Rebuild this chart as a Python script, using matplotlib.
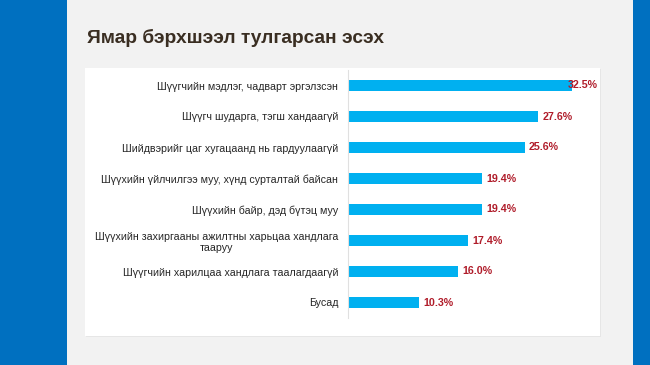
import matplotlib.pyplot as plt
from matplotlib.patches import Rectangle

plt.rcParams['font.family'] = ['Liberation Sans', 'DejaVu Sans']

title = "Ямар бэрхшээл тулгарсан эсэх"
categories = [
    "Шүүгчийн мэдлэг, чадварт эргэлзсэн",
    "Шүүгч шударга, тэгш хандаагүй",
    "Шийдвэрийг цаг хугацаанд нь гардуулаагүй",
    "Шүүхийн үйлчилгээ муу, хүнд сурталтай байсан",
    "Шүүхийн байр, дэд бүтэц муу",
    "Шүүхийн захиргааны ажилтны харьцаа хандлага\nтааруу",
    "Шүүгчийн харилцаа хандлага таалагдаагүй",
    "Бусад",
]
values = [32.5, 27.6, 25.6, 19.4, 19.4, 17.4, 16.0, 10.3]

W, H = 650, 365
fig = plt.figure(figsize=(W / 100, H / 100), dpi=100)
fig.patch.set_facecolor("#f2f2f2")

# slide frame: blue strips left/right, white panel
fig.patches.append(Rectangle((0, 0), 67 / W, 1, transform=fig.transFigure,
                             facecolor="#0070c0", edgecolor="none", zorder=0))
fig.patches.append(Rectangle((633 / W, 0), 1 - 633 / W, 1, transform=fig.transFigure,
                             facecolor="#0070c0", edgecolor="none", zorder=0))
fig.patches.append(Rectangle((86 / W, 1 - 337 / H), 515 / W, 268 / H, transform=fig.transFigure,
                             facecolor="#e6e6e6", edgecolor="none", zorder=0))
fig.patches.append(Rectangle((85 / W, 1 - 336 / H), 515 / W, 268 / H, transform=fig.transFigure,
                             facecolor="white", edgecolor="none", zorder=0))

fig.text(87 / W, 1 - 43 / H, title, fontsize=13.8, fontweight="bold",
         color="#3a2e22", ha="left", va="baseline")

ax = fig.add_axes([348 / W, 1 - 318 / H, 241.5 / W, 248 / H])
ax.set_facecolor("none")
ax.set_zorder(5)

y = list(range(len(categories)))
ax.barh(y, values, height=0.36, color="#00b0f0")
ax.set_xlim(0, 35)
ax.set_ylim(len(categories) - 0.5, -0.5)

ax.set_yticks(y)
ax.set_yticklabels(categories, fontsize=7.65, color="#262626")
for t in ax.get_yticklabels():
    t.set_multialignment("center")
    t.set_linespacing(1.15)
ax.tick_params(axis="y", length=0, pad=7)
ax.set_xticks([])

for s in ["top", "right", "bottom"]:
    ax.spines[s].set_visible(False)
ax.spines["left"].set_color("#e0e0e0")
ax.spines["left"].set_linewidth(0.8)

vmax = max(values)
for i, v in enumerate(values):
    off = -3 if v == vmax else 3
    ax.annotate(f"{v:.1f}%", (v, i), xytext=(off, 0), textcoords="offset points",
                ha="left", va="center", fontsize=7.7, fontweight="bold", color="#b01c2a")

fig.savefig("out.png", dpi=100)
